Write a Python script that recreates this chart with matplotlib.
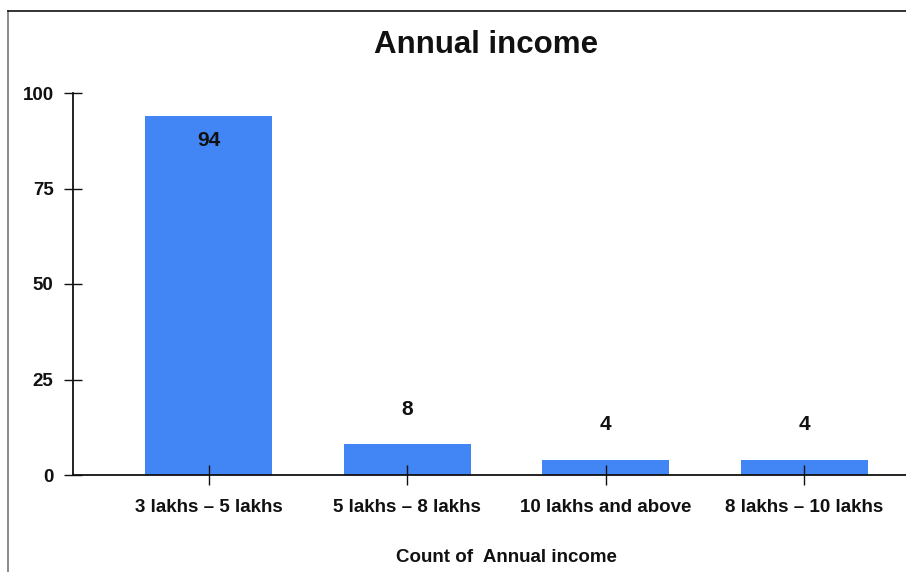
import matplotlib.pyplot as plt
from matplotlib.lines import Line2D

# data
categories = ['3 lakhs \u2013 5 lakhs', '5 lakhs \u2013 8 lakhs', '10 lakhs and above', '8 lakhs \u2013 10 lakhs']
counts = [94, 8, 4, 4]
yticks = [0, 25, 50, 75, 100]

plt.rcParams['font.family'] = ['Liberation Sans', 'DejaVu Sans']
plt.rcParams['font.weight'] = 'bold'

W, H = 906, 572
fig = plt.figure(figsize=(W / 100, H / 100), dpi=100)

# axes spans past the right edge, like the cropped screenshot
x0, x1, y0, y1 = 73, 940, 93, 475
ax = fig.add_axes([x0 / W, 1 - y1 / H, (x1 - x0) / W, (y1 - y0) / H])

bar_color = '#4285f4'
xs = range(len(categories))
ax.bar(xs, counts, width=0.64, color=bar_color, zorder=1)

for x, v in zip(xs, counts):
    if v > 50:
        ax.annotate(str(v), (x, v), xytext=(0, -18), textcoords='offset points',
                    ha='center', va='center', fontsize=15, fontweight='bold', color='#111111')
    else:
        ax.annotate(str(v), (x, v), xytext=(0, 25), textcoords='offset points',
                    ha='center', va='center', fontsize=15, fontweight='bold', color='#111111')

ax.set_xlim(-0.683, 3.683)
ax.set_ylim(0, 100)
ax.set_yticks(yticks)
ax.set_xticks(list(xs))
ax.set_xticklabels(categories)

for s in ['top', 'right']:
    ax.spines[s].set_visible(False)
for s in ['left', 'bottom']:
    ax.spines[s].set_linewidth(1.3)
    ax.spines[s].set_color('#111111')
    ax.spines[s].set_zorder(3)

ax.tick_params(axis='y', direction='inout', length=13, width=1.0, pad=7.5, labelsize=13.5, colors='#111111')
ax.tick_params(axis='x', direction='inout', length=14.5, width=1.0, pad=10, labelsize=13.5, colors='#111111')
for lbl in ax.get_xticklabels() + ax.get_yticklabels():
    lbl.set_fontweight('bold')
ax.patch.set_alpha(0)

fig.text(486 / W, 1 - 45 / H, 'Annual income', ha='center', va='center', fontsize=22.5, fontweight='bold', color='#111111')
fig.text(506 / W, 1 - 558 / H, 'Count of  Annual income', ha='center', va='center', fontsize=13.5, fontweight='bold', color='#111111')

# screenshot frame
fig.add_artist(Line2D([8 / W, 8 / W], [0, 1 - 11 / H], color='#777777', linewidth=1.2))
fig.add_artist(Line2D([8 / W, 1], [1 - 11 / H, 1 - 11 / H], color='#111111', linewidth=1.2))

fig.savefig('out.png', dpi=100)
